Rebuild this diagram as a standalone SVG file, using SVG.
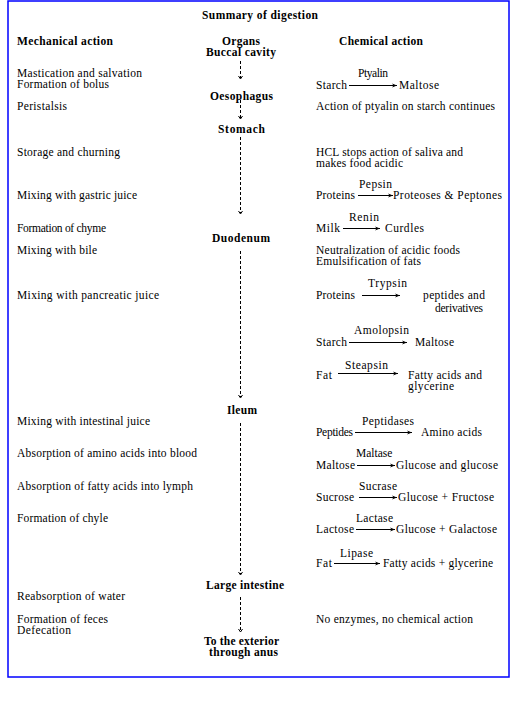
<svg xmlns="http://www.w3.org/2000/svg" width="516" height="722" viewBox="0 0 516 722">
<style>
text{font-family:'Liberation Serif','Times New Roman',serif;font-size:11.5px;fill:#000}
.b{font-weight:bold}
.flow{stroke:#000;stroke-width:1;stroke-dasharray:3 2;fill:none}
.rx{stroke:#000;stroke-width:1;fill:none}
.head{stroke:#000;stroke-width:1;fill:none}
</style>
<defs>
<marker id="ah" markerUnits="userSpaceOnUse" markerWidth="6" markerHeight="6" refX="5" refY="3" orient="auto">
<path d="M0,1 L5,3 L0,5 L1.5,3 z" fill="#000"/>
</marker>
</defs>
<rect x="8" y="1" width="501" height="676" fill="#fff" stroke="#0000ff" stroke-width="1.5"/>
<g id="title"><text class="b" x="202" y="19" textLength="116">Summary of digestion</text></g>
<g id="headers">
<text class="b" x="17" y="45" textLength="96">Mechanical action</text>
<text class="b" x="222" y="45" textLength="38">Organs</text>
<text class="b" x="339" y="45" textLength="84">Chemical action</text>
</g>
<g id="connectors">
<line class="flow" x1="240.5" y1="61" x2="240.5" y2="78"/>
<polyline class="head" points="238.5,76 240.5,79 242.5,76"/>
<line class="flow" x1="240.5" y1="100" x2="240.5" y2="118"/>
<polyline class="head" points="238.5,116 240.5,119 242.5,116"/>
<line class="flow" x1="240.5" y1="137" x2="240.5" y2="213"/>
<polyline class="head" points="238.5,211 240.5,214 242.5,211"/>
<line class="flow" x1="240.5" y1="251" x2="240.5" y2="397"/>
<polyline class="head" points="238.5,395 240.5,398 242.5,395"/>
<line class="flow" x1="240.5" y1="423" x2="240.5" y2="574"/>
<polyline class="head" points="238.5,572 240.5,575 242.5,572"/>
<line class="flow" x1="240.5" y1="597" x2="240.5" y2="631"/>
<polyline class="head" points="238.5,629 240.5,632 242.5,629"/>
<line class="rx" x1="349" y1="85.5" x2="397" y2="85.5" marker-end="url(#ah)"/>
<line class="rx" x1="358" y1="195.5" x2="393" y2="195.5" marker-end="url(#ah)"/>
<line class="rx" x1="343" y1="228.5" x2="380" y2="228.5" marker-end="url(#ah)"/>
<line class="rx" x1="362" y1="295.5" x2="400" y2="295.5" marker-end="url(#ah)"/>
<line class="rx" x1="349" y1="342.5" x2="407" y2="342.5" marker-end="url(#ah)"/>
<line class="rx" x1="338" y1="373.5" x2="398" y2="373.5" marker-end="url(#ah)"/>
<line class="rx" x1="355" y1="432.5" x2="412" y2="432.5" marker-end="url(#ah)"/>
<line class="rx" x1="357" y1="465.5" x2="395" y2="465.5" marker-end="url(#ah)"/>
<line class="rx" x1="359" y1="497.5" x2="397" y2="497.5" marker-end="url(#ah)"/>
<line class="rx" x1="356" y1="529.5" x2="395" y2="529.5" marker-end="url(#ah)"/>
<line class="rx" x1="334" y1="563.5" x2="380" y2="563.5" marker-end="url(#ah)"/>
</g>
<g id="organ-buccal"><text class="b" x="206" y="56" textLength="70">Buccal cavity</text></g>
<g id="organ-oesophagus"><text class="b" x="210" y="100" textLength="63">Oesophagus</text></g>
<g id="organ-stomach"><text class="b" x="218" y="133" textLength="47">Stomach</text></g>
<g id="organ-duodenum"><text class="b" x="212" y="242" textLength="58">Duodenum</text></g>
<g id="organ-ileum"><text class="b" x="227" y="414" textLength="30">Ileum</text></g>
<g id="organ-large-intestine"><text class="b" x="206" y="589" textLength="78">Large intestine</text></g>
<g id="organ-exterior">
<text class="b" x="204" y="645" textLength="75">To the exterior</text>
<text class="b" x="209" y="656" textLength="69">through anus</text>
</g>
<g id="mechanical">
<text x="17" y="77" textLength="125">Mastication and salvation</text>
<text x="17" y="88" textLength="92">Formation of bolus</text>
<text x="17" y="110" textLength="50">Peristalsis</text>
<text x="17" y="156" textLength="103">Storage and churning</text>
<text x="17" y="199" textLength="120">Mixing with gastric juice</text>
<text x="17" y="232" textLength="89">Formation of chyme</text>
<text x="17" y="254" textLength="80">Mixing with bile</text>
<text x="17" y="299" textLength="142">Mixing with pancreatic juice</text>
<text x="17" y="425" textLength="133">Mixing with intestinal juice</text>
<text x="17" y="457" textLength="180">Absorption of amino acids into blood</text>
<text x="17" y="490" textLength="176">Absorption of fatty acids into lymph</text>
<text x="17" y="522" textLength="91">Formation of chyle</text>
<text x="17" y="600" textLength="108">Reabsorption of water</text>
<text x="17" y="623" textLength="91">Formation of feces</text>
<text x="17" y="634" textLength="54">Defecation</text>
</g>
<g id="chemical-buccal">
<text x="358" y="77" textLength="30">Ptyalin</text>
<text x="316" y="89" textLength="31">Starch</text>
<text x="399" y="89" textLength="40">Maltose</text>
</g>
<g id="chemical-oesophagus"><text x="316" y="110" textLength="179">Action of ptyalin on starch continues</text></g>
<g id="chemical-stomach">
<text x="316" y="156" textLength="147">HCL stops action of saliva and</text>
<text x="316" y="167" textLength="87">makes food acidic</text>
<text x="359" y="188" textLength="33">Pepsin</text>
<text x="316" y="199" textLength="39">Proteins</text>
<text x="393" y="199" textLength="109">Proteoses &amp; Peptones</text>
<text x="349" y="221" textLength="30">Renin</text>
<text x="316" y="232" textLength="24">Milk</text>
<text x="385" y="232" textLength="39">Curdles</text>
</g>
<g id="chemical-duodenum">
<text x="316" y="254" textLength="144">Neutralization of acidic foods</text>
<text x="316" y="265" textLength="105">Emulsification of fats</text>
<text x="368" y="287" textLength="39">Trypsin</text>
<text x="316" y="299" textLength="39">Proteins</text>
<text x="423" y="299" textLength="62">peptides and</text>
<text x="435" y="312" textLength="48">derivatives</text>
<text x="354" y="334" textLength="55">Amolopsin</text>
<text x="316" y="346" textLength="31">Starch</text>
<text x="415" y="346" textLength="39">Maltose</text>
<text x="345" y="369" textLength="43">Steapsin</text>
<text x="316" y="379" textLength="16">Fat</text>
<text x="408" y="379" textLength="74">Fatty acids and</text>
<text x="408" y="390" textLength="46">glycerine</text>
</g>
<g id="chemical-ileum">
<text x="362" y="425" textLength="52">Peptidases</text>
<text x="316" y="436" textLength="37">Peptides</text>
<text x="421" y="436" textLength="61">Amino acids</text>
<text x="356" y="457">Maltase</text>
<text x="316" y="469" textLength="39">Maltose</text>
<text x="396" y="469" textLength="102">Glucose and glucose</text>
<text x="359" y="490" textLength="38">Sucrase</text>
<text x="316" y="501" textLength="38">Sucrose</text>
<text x="398" y="501" textLength="96">Glucose + Fructose</text>
<text x="356" y="522" textLength="37">Lactase</text>
<text x="316" y="533" textLength="38">Lactose</text>
<text x="396" y="533" textLength="101">Glucose + Galactose</text>
<text x="340" y="557" textLength="33">Lipase</text>
<text x="316" y="567" textLength="16">Fat</text>
<text x="383" y="567" textLength="110">Fatty acids + glycerine</text>
</g>
<g id="chemical-large-intestine"><text x="316" y="623" textLength="157">No enzymes, no chemical action</text></g>
</svg>
